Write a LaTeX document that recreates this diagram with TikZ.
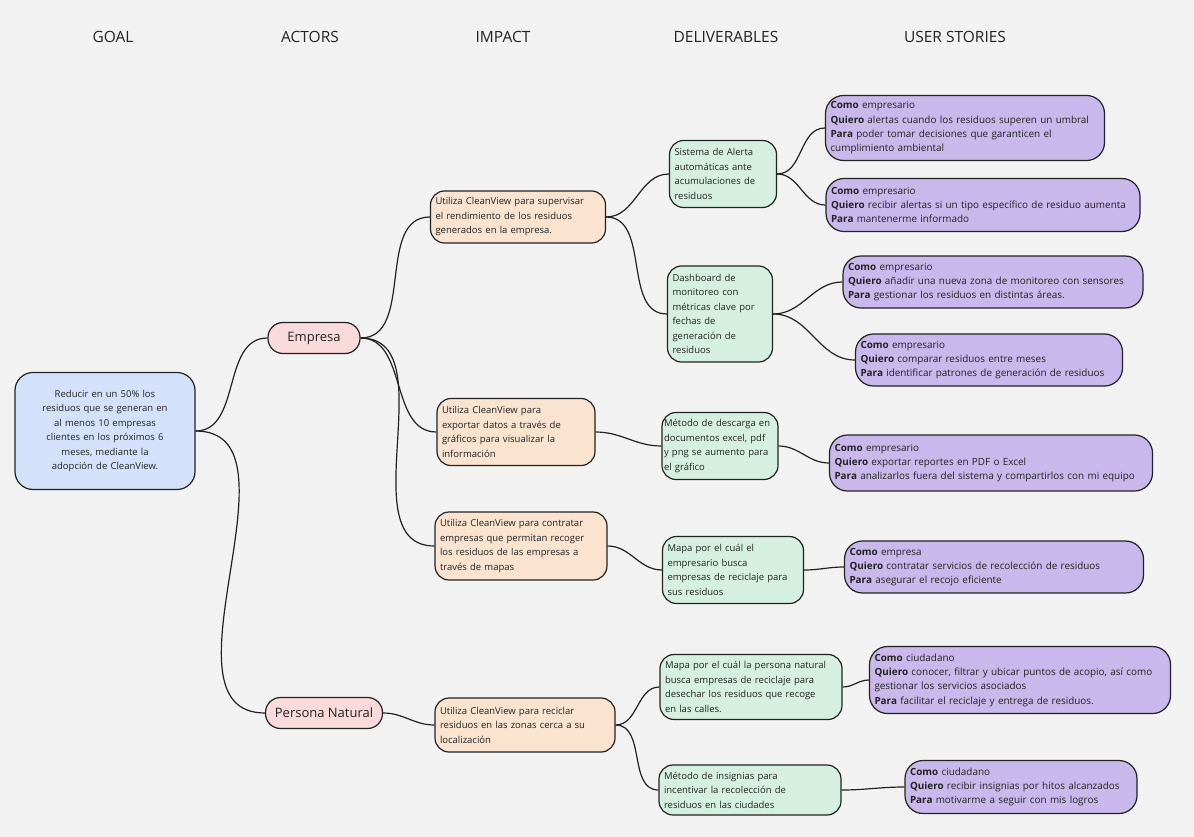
\documentclass[tikz,border=0pt]{standalone}
\usepackage{fontspec}
\setmainfont{Open Sans}
\usetikzlibrary{positioning}

\definecolor{bgc}{RGB}{242,242,242}
\definecolor{linec}{RGB}{34,34,34}
\definecolor{goalc}{RGB}{211,226,250}
\definecolor{actorc}{RGB}{250,218,218}
\definecolor{impactc}{RGB}{250,227,207}
\definecolor{delivc}{RGB}{213,240,225}
\definecolor{storyc}{RGB}{201,184,235}

\tikzset{
  box/.style={draw=linec, line width=1.2pt, rounded corners=14pt, inner xsep=5pt,
              inner ysep=3pt, align=left, text=linec,
              font=\fontsize{9.5}{14.5}\selectfont},
  goalbox/.style={box, fill=goalc, align=center, rounded corners=18pt},
  actorbox/.style={box, fill=actorc, rounded corners=15pt, align=center,
                   font=\fontsize{13}{16}\selectfont},
  impactbox/.style={box, fill=impactc},
  delivbox/.style={box, fill=delivc},
  storybox/.style={box, fill=storyc, rounded corners=18pt,
                   font=\fontsize{9.9}{14.3}\selectfont},
  head/.style={text=linec, font=\fontsize{15.5}{18}\selectfont},
  link/.style={draw=linec, line width=1.2pt},
}

\begin{document}
\begin{tikzpicture}[x=1pt, y=-1pt]
  \fill[bgc] (0,0) rectangle (1194,837);

  % column titles
  \node[head] (hgoal)  at (113,37) {GOAL};
  \node[head] (hactor) at (310,37) {ACTORS};
  \node[head] (himp)   at (503,37) {IMPACT};
  \node[head] (hdel)   at (726,37) {DELIVERABLES};
  \node[head] (hus)    at (955,37) {USER STORIES};

  % goal and actors
  \node[goalbox, text width=150, minimum width=180, minimum height=117] (goal) at (105,431)
    {Reducir en un 50\% los\\ residuos que se generan en\\ al menos 10 empresas\\
     clientes en los próximos 6\\ meses, mediante la\\ adopción de CleanView.};
  \node[actorbox, minimum width=92, minimum height=31] (empresa) at (314,338) {Empresa};
  \node[actorbox, minimum width=117, minimum height=31] (persona) at (324,713) {Persona Natural};

  % impacts
  \node[impactbox, text width=165, minimum height=52] (imp1) at (518,217)
    {Utiliza CleanView para supervisar\\ el rendimiento de los residuos\\ generados en la empresa.};
  \node[impactbox, text width=148, minimum height=67] (imp2) at (516,432)
    {Utiliza CleanView para\\ exportar datos a través de\\ gráficos para visualizar la\\ información};
  \node[impactbox, text width=162, minimum height=68] (imp3) at (521,546)
    {Utiliza CleanView para contratar\\ empresas que permitan recoger\\ los residuos de las empresas a\\ través de mapas};
  \node[impactbox, text width=170, minimum height=54] (imp4) at (525,725)
    {Utiliza CleanView para reciclar\\ residuos en las zonas cerca a su\\ localización};

  % deliverables
  \node[delivbox, text width=97, minimum height=67] (del1) at (723,174)
    {Sistema de Alerta\\ automáticas ante\\ acumulaciones de\\ residuos};
  \node[delivbox, text width=95, minimum height=96] (del2) at (720,314)
    {Dashboard de\\ monitoreo con\\ métricas clave por\\ fechas de\\ generación de\\ residuos};
  \node[delivbox, inner xsep=2pt, text width=112, minimum height=67] (del3) at (720,446)
    {Método de descarga en\\ documentos excel, pdf\\ y png se aumento para\\ el gráfico};
  \node[delivbox, text width=131, minimum height=67] (del4) at (733,570)
    {Mapa por el cuál el\\ empresario busca\\ empresas de reciclaje para\\ sus residuos};
  \node[delivbox, text width=172, minimum height=65] (del5) at (751,687)
    {Mapa por el cuál la persona natural\\ busca empresas de reciclaje para\\ desechar los residuos que recoge\\ en las calles.};
  \node[delivbox, text width=172, minimum height=50] (del6) at (750,790)
    {Método de insignias para\\ incentivar la recolección de\\ residuos en las ciudades};

  % user stories
  \node[storybox, text width=269, minimum height=65] (us1) at (965,128)
    {\textbf{Como} empresario\\ \textbf{Quiero} alertas cuando los residuos superen un umbral\\
     \textbf{Para} poder tomar decisiones que garanticen el\\ cumplimiento ambiental};
  \node[storybox, text width=304, minimum height=53] (us2) at (983,205)
    {\textbf{Como} empresario\\ \textbf{Quiero} recibir alertas si un tipo específico de residuo aumenta\\
     \textbf{Para} mantenerme informado};
  \node[storybox, text width=290, minimum height=52] (us3) at (993,282)
    {\textbf{Como} empresario\\ \textbf{Quiero} añadir una nueva zona de monitoreo con sensores\\
     \textbf{Para} gestionar los residuos en distintas áreas.};
  \node[storybox, text width=257, minimum height=52] (us4) at (989,360)
    {\textbf{Como} empresario\\ \textbf{Quiero} comparar residuos entre meses\\
     \textbf{Para} identificar patrones de generación de residuos};
  \node[storybox, text width=313, minimum height=56] (us5) at (991,463)
    {\textbf{Como} empresario\\ \textbf{Quiero} exportar reportes en PDF o Excel\\
     \textbf{Para} analizarlos fuera del sistema y compartirlos con mi equipo};
  \node[storybox, text width=289, minimum height=52] (us6) at (994,567)
    {\textbf{Como} empresa\\ \textbf{Quiero} contratar servicios de recolección de residuos\\
     \textbf{Para} asegurar el recojo eficiente};
  \node[storybox, text width=291, minimum height=67] (us7) at (1020,680)
    {\textbf{Como} ciudadano\\ \textbf{Quiero} conocer, filtrar y ubicar puntos de acopio, así como\\
     gestionar los servicios asociados\\ \textbf{Para} facilitar el reciclaje y entrega de residuos.};
  \node[storybox, text width=222, minimum height=53] (us8) at (1021,787)
    {\textbf{Como} ciudadano\\ \textbf{Quiero} recibir insignias por hitos alcanzados\\
     \textbf{Para} motivarme a seguir con mis logros};

  % branches
  \foreach \a/\b in {goal/empresa, goal/persona,
                     empresa/imp1, empresa/imp2, empresa/imp3, persona/imp4,
                     imp1/del1, imp1/del2, imp2/del3, imp3/del4, imp4/del5, imp4/del6,
                     del1/us1, del1/us2, del2/us3, del2/us4, del3/us5, del4/us6,
                     del5/us7, del6/us8}
    \draw[link] (\a.east) to[out=0, in=180] (\b.west);
\end{tikzpicture}
\end{document}
